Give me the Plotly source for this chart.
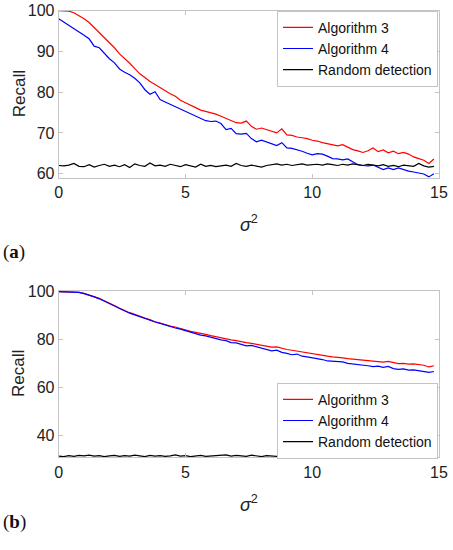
import plotly.graph_objects as go

# noise variance sigma^2
sigma2 = [0.0, 0.2, 0.4, 0.6, 0.8, 1.0, 1.2, 1.4, 1.6, 1.8,
          2.0, 2.2, 2.4, 2.6, 2.8, 3.0, 3.2, 3.4, 3.6, 3.8,
          4.0, 4.2, 4.4, 4.6, 4.8, 5.0, 5.2, 5.4, 5.6, 5.8,
          6.0, 6.2, 6.4, 6.6, 6.8, 7.0, 7.2, 7.4, 7.6, 7.8,
          8.0, 8.2, 8.4, 8.6, 8.8, 9.0, 9.2, 9.4, 9.6, 9.8,
          10.0, 10.2, 10.4, 10.6, 10.8, 11.0, 11.2, 11.4, 11.6, 11.8,
          12.0, 12.2, 12.4, 12.6, 12.8, 13.0, 13.2, 13.4, 13.6, 13.8,
          14.0, 14.2, 14.4, 14.6, 14.8]

# (a)
alg3_a = [100.0, 100.0, 99.9, 99.5, 98.8, 98.0, 97.1, 95.9, 94.5, 93.3,
          92.2, 90.9, 89.4, 88.3, 87.1, 85.8, 84.5, 83.6, 82.6, 81.9,
          81.1, 80.3, 79.6, 79.0, 78.0, 77.4, 76.7, 76.2, 75.6, 75.3,
          74.9, 74.6, 74.1, 73.6, 73.0, 72.5, 72.4, 72.9, 71.6, 70.9,
          71.2, 70.8, 70.3, 70.0, 71.0, 69.5, 69.4, 69.0, 68.8, 68.6,
          68.2, 68.0, 67.6, 67.3, 67.0, 66.8, 67.1, 66.4, 65.9, 65.6,
          65.2, 65.6, 66.3, 65.4, 65.8, 65.1, 65.5, 64.9, 65.2, 64.8,
          64.1, 63.7, 63.3, 62.5, 63.6]
alg4_a = [98.0, 97.2, 96.5, 95.8, 95.0, 94.0, 93.1, 91.3, 90.9, 89.5,
          88.2, 87.2, 85.7, 84.9, 84.3, 83.4, 82.3, 80.6, 79.5, 80.1,
          78.2, 77.6, 77.0, 76.5, 75.9, 75.3, 74.8, 74.0, 73.4, 73.0,
          72.8, 72.9, 72.3, 70.8, 71.1, 69.8, 69.7, 69.9, 68.6, 67.8,
          68.2, 67.7, 67.4, 66.9, 67.6, 66.3, 66.2, 65.9, 65.5, 65.0,
          64.6, 64.9, 64.8, 64.3, 63.7, 63.6, 63.4, 63.6, 63.0, 62.2,
          62.0, 61.9, 62.1, 61.5, 61.0, 61.4, 61.0, 61.4, 61.0, 60.6,
          60.4, 60.2, 59.9, 59.2, 60.0]
rand_a = [62.0, 61.9, 62.1, 62.5, 61.8, 61.7, 62.2, 61.6, 62.0, 62.3, 61.8, 62.1, 61.7, 62.2, 61.5,
          62.4, 62.0, 61.8, 62.6, 61.9, 62.1, 61.8, 62.3, 62.0, 61.7, 62.2, 61.9, 61.6, 62.3, 61.8,
          62.0, 61.7, 61.9, 62.1, 61.8, 62.5, 62.0, 61.8, 62.1, 61.9, 61.6, 62.0, 62.2, 62.4, 62.1,
          62.3, 62.0, 62.2, 62.4, 62.1, 62.2, 62.3, 62.1, 62.4, 62.2, 62.0, 62.3, 62.1, 62.4, 62.2,
          62.0, 62.3, 62.1, 61.9, 62.2, 61.8, 62.0, 61.7, 62.1, 61.9, 61.8, 62.5, 61.9, 61.6, 61.8]

# (b)
alg3_b = [100.0, 100.0, 100.0, 100.0, 99.7, 99.3, 98.7, 98.0, 97.2, 96.2,
          95.3, 94.2, 93.0, 92.0, 91.2, 90.5, 89.6, 89.0, 88.3, 87.4,
          86.9, 86.2, 85.6, 85.2, 84.5, 84.0, 83.4, 83.0, 82.4, 82.1,
          81.6, 81.1, 80.6, 80.3, 79.8, 79.5, 79.0, 78.7, 78.4, 78.0,
          77.5, 77.3, 76.8, 76.9, 76.2, 75.8, 75.5, 75.1, 74.8, 74.5,
          74.1, 73.8, 73.4, 73.0, 72.7, 72.6, 72.3, 72.0, 71.8, 71.5,
          71.2, 71.0, 70.9, 70.7, 70.5, 70.8, 70.2, 69.9, 70.0, 69.7,
          69.8, 69.5, 69.2, 68.5, 69.0]
alg4_b = [100.0, 100.0, 100.0, 99.9, 99.7, 99.2, 98.6, 97.8, 97.0, 96.0,
          95.0, 94.0, 92.9, 91.8, 91.0, 90.3, 89.5, 88.8, 88.1, 87.3,
          86.7, 86.0, 85.5, 84.8, 84.3, 83.6, 83.1, 82.5, 81.8, 81.5,
          80.9, 80.4, 79.8, 79.5, 78.7, 78.6, 78.0, 77.3, 77.5, 76.9,
          76.3, 76.0, 75.2, 75.5, 74.6, 74.2, 73.6, 73.9, 73.0, 72.7,
          72.4, 72.0, 71.6, 71.0, 70.8, 70.5, 70.6, 70.0, 69.8, 69.5,
          69.2, 69.0, 68.6, 68.8, 68.3, 68.7, 67.8, 67.5, 67.7, 67.2,
          67.3, 66.9, 66.6, 66.2, 66.6]
rand_b = [31.2, 31.0, 31.4, 31.1, 31.5, 31.3, 31.6, 31.2, 31.4, 31.0, 31.3, 31.5, 31.1, 31.4, 31.2,
          31.6, 31.3, 31.0, 31.5, 31.2, 31.4, 31.1, 31.3, 31.7, 31.2, 31.4, 31.0, 31.3, 31.5, 31.1,
          31.2, 31.6, 31.4, 31.7, 31.2, 31.5, 31.3, 31.1, 31.6, 31.3, 31.0, 31.4, 31.2, 31.1, 31.4,
          31.6, 31.3, 31.7, 31.5, 31.8, 31.4, 31.2, 31.0, 31.3, 31.6, 31.5, 31.8, 31.7, 32.1, 31.9,
          32.3, 32.0, 31.6, 31.4, 31.8, 31.5, 32.0, 31.6, 32.2, 31.3, 31.8, 31.5, 31.2, 31.4, 31.3]

names = ['Algorithm 3', 'Algorithm 4', 'Random detection']
colors = ['#ff0000', '#0000ff', '#000000']

fig = go.Figure()
for ys, name, c in zip([alg3_a, alg4_a, rand_a], names, colors):
    fig.add_trace(go.Scatter(x=sigma2, y=ys, name=name, mode='lines',
                             line=dict(color=c, width=1.2), xaxis='x', yaxis='y', legend='legend'))
for ys, name, c in zip([alg3_b, alg4_b, rand_b], names, colors):
    fig.add_trace(go.Scatter(x=sigma2, y=ys, name=name, mode='lines',
                             line=dict(color=c, width=1.2), xaxis='x2', yaxis='y2', legend='legend2'))

sans = 'Liberation Sans, Arial, sans-serif'
frame = dict(showline=True, mirror='ticks', linecolor='#c4c4c4', linewidth=1, automargin=False,
             ticks='inside', ticklen=4, tickcolor='#c4c4c4', showgrid=False, zeroline=False,
             tickfont=dict(family=sans, size=16, color='#222222'))
xdom = [58.7 / 453, 439 / 453]
ydom_a = [1 - 177.7 / 550, 1 - 10.7 / 550]
ydom_b = [1 - 457.3 / 550, 1 - 290.7 / 550]
xtitle = dict(text='<i>σ</i><sup>2</sup>', font=dict(family=sans, size=18, color='#222222'), standoff=18)
leg = dict(x=438 / 453, xanchor='right', yanchor='top',
           bgcolor='white', bordercolor='#c4c4c4', borderwidth=1,
           font=dict(family=sans, size=14, color='#111111'), itemwidth=30, tracegroupgap=0)

fig.update_layout(
    width=453, height=550,
    margin=dict(l=0, r=0, t=0, b=0, autoexpand=False),
    paper_bgcolor='white', plot_bgcolor='white',
    font=dict(family=sans, color='#222222'),
    xaxis=dict(frame, domain=xdom, range=[0, 15], tickvals=[0, 5, 10, 15], anchor='y', title=xtitle),
    yaxis=dict(frame, domain=ydom_a, range=[59, 100], tickvals=[60, 70, 80, 90, 100], anchor='x'),
    xaxis2=dict(frame, domain=xdom, range=[0, 15], tickvals=[0, 5, 10, 15], anchor='y2', title=xtitle),
    yaxis2=dict(frame, domain=ydom_b, range=[30.7, 100.4], tickvals=[40, 60, 80, 100], anchor='x2'),
    legend=dict(leg, y=1 - 10.7 / 550),
    legend2=dict(leg, y=1 - 382.7 / 550),
)

# y titles and panel tags
for dom in (ydom_a, ydom_b):
    fig.add_annotation(text='Recall', textangle=-90, x=19 / 453, y=(dom[0] + dom[1]) / 2,
                       xref='paper', yref='paper', xanchor='center', yanchor='middle',
                       showarrow=False, font=dict(family=sans, size=17, color='#222222'))
for tag, ypx in (('a', 252), ('b', 522)):
    fig.add_annotation(text='(<b>' + tag + '</b>)', x=1 / 453, y=1 - ypx / 550,
                       xref='paper', yref='paper', xanchor='left', yanchor='middle',
                       showarrow=False, font=dict(family='Liberation Serif, serif', size=19, color='#111111'))

# the page's default body margin would shift the 453x550 figure
fig.write_html('out.html', config={'displayModeBar': False},
               post_script="document.body.style.margin='0';")
